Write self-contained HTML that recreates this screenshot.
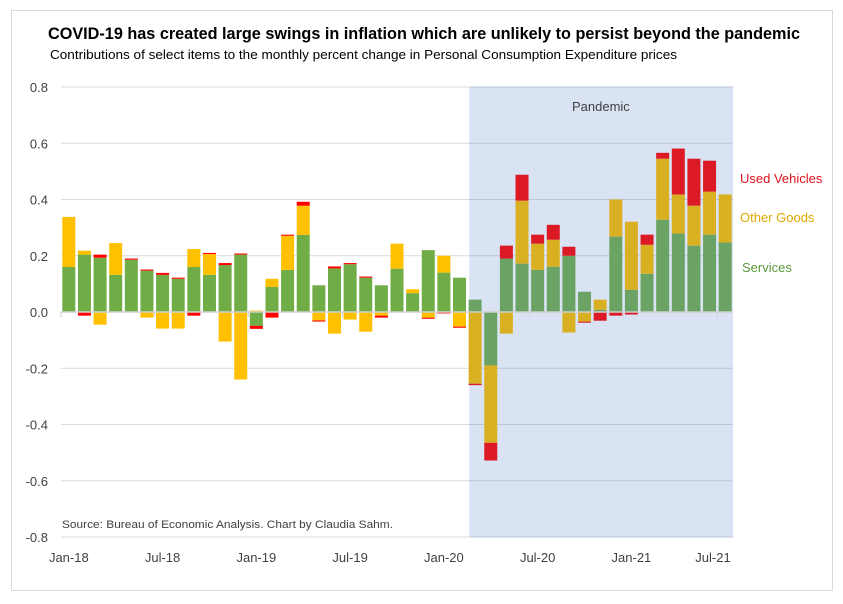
<!DOCTYPE html>
<html><head><meta charset="utf-8"><style>
body{margin:0;background:#fff;font-family:"Liberation Sans",sans-serif;}
</style></head><body>
<svg width="843" height="599" xmlns="http://www.w3.org/2000/svg" font-family="Liberation Sans, sans-serif">
<rect x="11.5" y="10.5" width="821" height="580" fill="#fff" stroke="#d9d9d9"/>
<text x="48" y="39" font-size="17" font-weight="bold" fill="#000" textLength="752" lengthAdjust="spacingAndGlyphs">COVID-19 has created large swings in inflation which are unlikely to persist beyond the pandemic</text>
<text x="50" y="59" font-size="13" fill="#000" textLength="627" lengthAdjust="spacingAndGlyphs">Contributions of select items to the monthly percent change in Personal Consumption Expenditure prices</text>
<g id="plot"></g>
<text x="62" y="528" font-size="11" fill="#404040" textLength="331" lengthAdjust="spacingAndGlyphs">Source: Bureau of Economic Analysis. Chart by Claudia Sahm.</text>
<text x="740" y="183" font-size="13" fill="#e0141e">Used Vehicles</text>
<text x="740" y="222" font-size="13" fill="#e0a800">Other Goods</text>
<text x="742" y="272" font-size="13" fill="#5a9a3a">Services</text>
</svg>
<script>
const months=["Jan-18","Feb-18","Mar-18","Apr-18","May-18","Jun-18","Jul-18","Aug-18","Sep-18","Oct-18","Nov-18","Dec-18","Jan-19","Feb-19","Mar-19","Apr-19","May-19","Jun-19","Jul-19","Aug-19","Sep-19","Oct-19","Nov-19","Dec-19","Jan-20","Feb-20","Mar-20","Apr-20","May-20","Jun-20","Jul-20","Aug-20","Sep-20","Oct-20","Nov-20","Dec-20","Jan-21","Feb-21","Mar-21","Apr-21","May-21","Jun-21","Jul-21"];
const services=[0.16,0.204,0.193,0.132,0.186,0.147,0.132,0.118,0.16,0.132,0.167,0.204,-0.049,0.089,0.15,0.274,0.095,0.155,0.17,0.122,0.095,0.154,0.067,0.22,0.14,0.122,0.044,-0.19,0.19,0.172,0.15,0.161,0.2,0.072,0.008,0.268,0.079,0.136,0.328,0.279,0.236,0.275,0.247];
const otherGoods=[0.178,0.014,-0.045,0.113,0,-0.02,-0.059,-0.059,0.064,0.074,-0.105,-0.24,0.005,0.029,0.121,0.104,-0.03,-0.077,-0.027,-0.07,-0.013,0.089,0.014,-0.02,0.06,-0.052,-0.255,-0.275,-0.077,0.224,0.093,0.096,-0.073,-0.034,0.036,0.132,0.242,0.103,0.217,0.139,0.142,0.153,0.171];
const usedVehicles=[0,-0.013,0.011,0,0.004,0.004,0.007,0.004,-0.013,0.004,0.007,0.004,-0.011,-0.02,0.004,0.014,-0.004,0.007,0.004,0.004,-0.007,0,0,-0.004,-0.005,-0.004,-0.005,-0.063,0.046,0.092,0.032,0.053,0.032,-0.004,-0.031,-0.013,-0.009,0.036,0.021,0.163,0.167,0.11,0];
const yTicks=[0.8,0.6,0.4,0.2,0,-0.2,-0.4,-0.6,-0.8];
const xLabels=["Jan-18","Jul-18","Jan-19","Jul-19","Jan-20","Jul-20","Jan-21","Jul-21"];
const pandemicStart="Mar-20";
const NS="http://www.w3.org/2000/svg";
const L=61,R=733,T=87,B=537,vmin=-0.8,vmax=0.8;
const cw=(R-L)/months.length;
const y=v=>T+(vmax-v)/(vmax-vmin)*(B-T);
const x=i=>L+i*cw;
const g=document.getElementById('plot');
function mk(t,a){const e=document.createElementNS(NS,t);for(const k in a)e.setAttribute(k,a[k]);g.appendChild(e);return e;}
const ps=months.indexOf(pandemicStart);
let sh=mk('rect',{x:x(ps)+2,y:T,width:R-x(ps)-2,height:B-T,fill:'#dae3f3'});


let pt=mk('text',{x:572,y:111,'font-size':13,fill:'#404040'});pt.textContent='Pandemic';


yTicks.forEach(v=>{
 if(v!==0){let l=mk('line',{x1:L,x2:x(ps)+2,y1:y(v),y2:y(v),stroke:'#d9d9d9','stroke-width':1});
 
 
 let l2=mk('line',{x1:x(ps)+2,x2:R,y1:y(v),y2:y(v),stroke:'#bcc5d6','stroke-width':1});
 
 }
 let t=mk('text',{x:48,y:y(v)+5,'font-size':13,fill:'#404040','text-anchor':'end'});
 t.textContent=v.toFixed(1);
 
 
});
const bw=13;
months.forEach((m,i)=>{
 const p=i>=ps;
 const cols=p?['#6aa364','#dab023','#dc1a26']:['#70ad47','#ffc000','#ff0000'];
 const names=['services','other-goods','used-vehicles'];
 let pos=0,neg=0;
 [services[i],otherGoods[i],usedVehicles[i]].forEach((v,k)=>{
  if(!v)return;
  let y0,y1;
  if(v>0){y0=pos;pos+=v;y1=pos;}else{y0=neg;neg+=v;y1=neg;}
  const top=y(Math.max(y0,y1)),bot=y(Math.min(y0,y1));
  let r=mk('rect',{x:x(i)+(cw-bw)/2,y:top,width:bw,height:Math.max(bot-top,0.5),fill:cols[k]});
  
  
 });
});
let ax=mk('line',{x1:L,x2:R,y1:y(0),y2:y(0),stroke:'#d0d0d0','stroke-width':1.5});


xLabels.forEach(lb=>{
 const i=months.indexOf(lb);
 let tk=mk('line',{x1:x(i),x2:x(i),y1:y(0),y2:y(0)+5,stroke:'#d0d0d0'});
 
 
 let cx=x(i)+cw/2; if(cx>713)cx=713;
 let t=mk('text',{x:cx,y:562,'font-size':13,fill:'#404040','text-anchor':'middle'});
 t.textContent=lb;
 
 
});
</script>
</body></html>
